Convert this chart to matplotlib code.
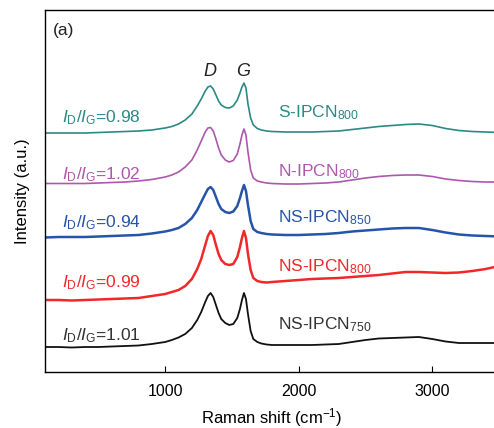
import matplotlib
matplotlib.use('Agg')
import matplotlib.pyplot as plt

plt.rcParams['font.family'] = ['Liberation Sans', 'DejaVu Sans']
plt.rcParams['mathtext.fontset'] = 'custom'
plt.rcParams['mathtext.rm'] = 'Liberation Sans'
plt.rcParams['mathtext.it'] = 'Liberation Sans:italic'
plt.rcParams['mathtext.bf'] = 'Liberation Sans:bold'

# Raman shift grid (cm-1)
shift = [100, 200, 300, 400, 500, 600, 700, 800, 900, 1000, 1050, 1100, 1150, 1200,
         1240, 1270, 1300, 1320, 1340, 1360, 1380, 1400, 1420, 1450, 1480, 1510, 1540,
         1560, 1575, 1590, 1605, 1620, 1640, 1660, 1690, 1720, 1760, 1800, 1900, 2000,
         2100, 2200, 2300, 2400, 2500, 2600, 2700, 2800, 2900, 3000, 3100, 3200, 3300,
         3400, 3500]

# stacked intensities (a.u.), bottom to top
ns750 = [25, 25, 24.5, 25, 25, 25.5, 26, 26.5, 28, 30, 32, 34.5, 38, 44,
         52, 60, 70, 76, 79, 75, 67, 59, 53, 49, 47, 48, 54,
         63, 72, 79, 73, 58, 41, 33, 30, 28.5, 27.5, 27, 27, 27,
         27, 27.5, 28, 30, 32, 33.5, 34, 34.5, 35, 33, 30.5, 29, 29,
         29, 29]
ns800 = [72, 72, 71.5, 72, 72.5, 73, 73.5, 74, 76, 78, 80, 82, 86, 93,
         103, 113, 127, 136, 141, 137, 127, 118, 112, 108, 107, 108, 115,
         125, 134, 141, 134, 118, 102, 94, 91, 90, 89.5, 90, 91, 92,
         93, 93.5, 94, 95, 96, 97, 98.5, 100, 100, 99.5, 99, 99.5, 101,
         103, 106]
ns850 = [134.5, 135, 135, 135, 135.5, 136, 136.5, 137, 138.5, 140.5, 142, 144, 148, 154,
         162, 170, 178, 183, 185, 182, 175, 168, 163, 160, 159, 160.5, 166,
         174, 181, 187, 181, 167, 151, 143, 140, 139, 138, 137.5, 137, 137,
         137.5, 138, 139, 140.5, 141.5, 142.5, 143.5, 144, 144, 142, 139.5, 137.5, 136.5,
         136, 135.5]
n800 = [188.5, 188.5, 188.5, 188.5, 189, 189.5, 190, 191, 192.5, 195, 197, 200, 205, 212,
        222, 231, 240, 244, 244.5, 241, 233, 224, 217, 212, 210, 211.5, 218,
        228, 237, 243, 237, 220, 202, 194, 191, 190, 189, 188.5, 188, 188,
        188.5, 189, 190, 192, 194, 195.5, 196.5, 197, 197, 195.5, 193, 191.5, 190.5,
        190, 190]
s800 = [239, 239, 239, 239, 239.5, 240, 240.5, 241, 242, 244, 245.5, 248, 252, 258,
        266, 273, 281, 285, 286, 283, 277, 271, 267, 264.5, 264, 266, 272,
        279, 285, 289, 284, 268, 254, 247, 243.5, 242, 241, 240.5, 240, 240,
        240, 240.5, 241, 242.5, 244, 245.5, 246.5, 247.5, 248, 246.5, 243.5, 241.5, 240.5,
        240, 239.5]

series = [ns750, ns800, ns850, n800, s800]
names = [r'NS-IPCN$_{750}$', r'NS-IPCN$_{800}$', r'NS-IPCN$_{850}$',
         r'N-IPCN$_{800}$', r'S-IPCN$_{800}$']
ratios = ['1.01', '0.99', '0.94', '1.02', '0.98']
colors = ['#111111', '#f0282a', '#2554a8', '#ad58ad', '#2a8a86']
text_colors = ['#333333', '#f0282a', '#2554a8', '#ad58ad', '#2a8a86']
widths = [1.3, 1.8, 1.8, 1.2, 1.2]
ratio_y = [36, 89, 149, 197, 254]
name_y = [47, 105, 154, 200, 259]

fig = plt.figure(figsize=(4.94, 4.28), dpi=100)
ax = fig.add_axes([45/494, 56/428, 454/494, 362/428])

for y, c, lw in zip(series, colors, widths):
    ax.plot(shift, y, color=c, lw=lw, solid_joinstyle='round')

for i in range(len(series)):
    ax.text(227, ratio_y[i], r'$\mathit{I}_{\mathrm{D}}/\mathit{I}_{\mathrm{G}}$=' + ratios[i],
            color=text_colors[i], fontsize=12.5, va='center', ha='left')
    ax.text(1845, name_y[i], names[i], color=text_colors[i], fontsize=12.5,
            va='center', ha='left')

ax.text(1336, 301, 'D', style='italic', fontsize=13, ha='center', va='center', color='#222222')
ax.text(1583, 301, 'G', style='italic', fontsize=13, ha='center', va='center', color='#222222')
ax.text(160, 342, '(a)', fontsize=12.5, ha='left', va='center', color='#222222')

ax.set_xlim(100, 3500)
ax.set_ylim(0, 362)
ax.set_xticks([1000, 2000, 3000])
ax.set_yticks([])
ax.tick_params(axis='x', direction='in', length=4, labelsize=11.5, pad=9)
ax.set_xlabel('Raman shift (cm$^{\u2212\mathrm{1}}$)', fontsize=12, labelpad=5)
ax.set_ylabel('Intensity (a.u.)', fontsize=12, labelpad=11)
for s in ax.spines.values():
    s.set_linewidth(1.0)

fig.savefig('out.png', dpi=100)
